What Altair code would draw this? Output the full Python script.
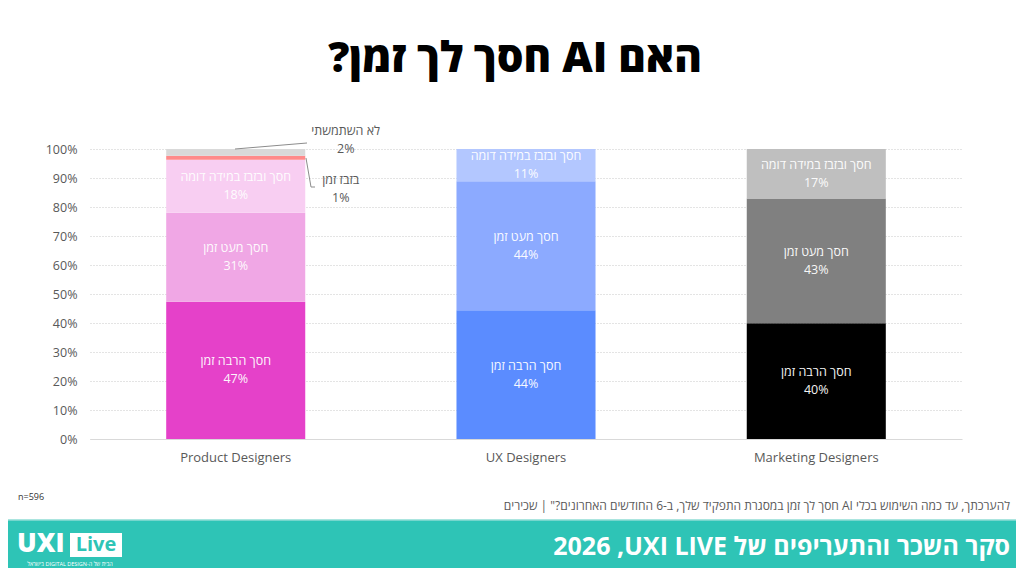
import altair as alt
import pandas as pd

# ---------------- data ----------------
groups = ["Product Designers", "UX Designers", "Marketing Designers"]
categories = ["חסך הרבה זמן", "חסך מעט זמן", "חסך ובזבז במידה דומה", "בזבז זמן", "לא השתמשתי"]

product_values = [47.3, 30.7, 18.3, 1.4, 2.3]
ux_values = [44.4, 44.5, 11.1]
marketing_values = [39.9, 43.0, 17.1]

product_labels = [47, 31, 18, 1, 2]
ux_labels = [44, 44, 11]
marketing_labels = [40, 43, 17]

product_colors = ["#e541c9", "#f0a7e5", "#f8cef2", "#ff8a8a", "#d9d9d9"]
ux_colors = ["#5b8cff", "#8caaff", "#b3c7ff"]
marketing_colors = ["#000000", "#808080", "#bfbfbf"]

y_ticks = list(range(0, 101, 10))

title_text = "האם AI חסך לך זמן?"
footnote_text = "להערכתך, עד כמה השימוש בכלי AI חסך לך זמן במסגרת התפקיד שלך, ב-6 החודשים האחרונים?\" | שכירים"
n_text = "n=596"
footer_title = "סקר השכר והתעריפים של UXI LIVE\u200F, 2026"
logo_sub = "הבית של ה-DIGITAL DESIGN בישראל"

RLE, PDF = "\u202B", "\u202C"

# ---------------- table ----------------
rows = []
keys, colors = [], []
for g, vals, labs, cols in [
    (groups[0], product_values, product_labels, product_colors),
    (groups[1], ux_values, ux_labels, ux_colors),
    (groups[2], marketing_values, marketing_labels, marketing_colors),
]:
    acc = 0.0
    for i, (v, lab, c) in enumerate(zip(vals, labs, cols)):
        key = f"{g}|{categories[i]}"
        rows.append({
            "group": g, "cat": categories[i], "key": key,
            "start": acc, "end": acc + v, "mid": acc + v / 2,
            "text": f"{categories[i]}\n{lab}%", "inside": v > 5,
        })
        keys.append(key)
        colors.append(c)
        acc += v
df = pd.DataFrame(rows)

FONT = "Open Sans"

x_axis = alt.Axis(title=None, labelAngle=0, ticks=False, domain=True, grid=False,
                  domainColor="#d9d9d9", domainWidth=1, labelPadding=12,
                  labelFontSize=13, labelColor="#595959", labelFont=FONT)
y_axis = alt.Axis(title=None, values=y_ticks, labelExpr="datum.value + '%'",
                  grid=True, gridDash=[1, 2], gridColor="#c8c8c8", gridWidth=1,
                  domain=False, ticks=False, labelPadding=13,
                  labelFontSize=12.5, labelColor="#595959", labelFont=FONT)
x_scale = alt.Scale(paddingInner=0.521, paddingOuter=0.2625)
y_scale = alt.Scale(domain=[0, 100], nice=False)


def X():
    return alt.X("group:N", sort=groups, scale=x_scale, axis=x_axis)


def Y(field):
    return alt.Y(field, scale=y_scale, axis=y_axis, title=None)


base = alt.Chart(df)

bars = base.mark_bar().encode(
    x=X(),
    y=Y("start:Q"),
    y2="end:Q",
    color=alt.Color("key:N", scale=alt.Scale(domain=keys, range=colors), legend=None),
)

inside_text = base.transform_filter("datum.inside").mark_text(
    color="white", fontSize=12.5, font=FONT, lineBreak="\n", lineHeight=18,
    baseline="middle", align="center", opacity=0.95, dy=-9
).encode(x=X(), y=Y("mid:Q"), text="text:N")

callout_style = dict(color="#595959", fontSize=12.5, font=FONT, lineBreak="\n",
                     lineHeight=18, baseline="middle", align="center")
call_unused = base.transform_filter(f"datum.cat == '{categories[4]}'").mark_text(
    dx=110, dy=-21, **callout_style
).encode(x=X(), y=Y("mid:Q"), text="text:N")
call_waste = base.transform_filter(f"datum.cat == '{categories[3]}'").mark_text(
    dx=105, dy=22, **callout_style
).encode(x=X(), y=Y("mid:Q"), text="text:N")

one = pd.DataFrame({"a": [0]})
deco = alt.Chart(one)

lead1 = deco.mark_rule(color="#8c8c8c", strokeWidth=1).encode(
    x=alt.value(145), y=alt.value(0), x2=alt.value(217), y2=alt.value(-6))
lead2a = deco.mark_rule(color="#8c8c8c", strokeWidth=1).encode(
    x=alt.value(216), y=alt.value(9), x2=alt.value(221), y2=alt.value(38))
lead2b = deco.mark_rule(color="#8c8c8c", strokeWidth=1).encode(
    x=alt.value(221), y=alt.value(38), x2=alt.value(225), y2=alt.value(38))

title = deco.mark_text(font=FONT, fontSize=42, fontWeight=800, color="#000000",
                       align="center", baseline="middle").encode(
    x=alt.value(425), y=alt.value(-90), text=alt.value(RLE + title_text + PDF))

n_label = deco.mark_text(font=FONT, fontSize=9, color="#333333", align="left",
                         baseline="middle").encode(
    x=alt.value(-72), y=alt.value(348), text=alt.value(n_text))

footnote = deco.mark_text(font=FONT, fontSize=12, color="#595959", align="right",
                          baseline="middle").encode(
    x=alt.value(920), y=alt.value(357), text=alt.value(RLE + footnote_text + PDF))

band = deco.mark_rect(color="#2ec4b6").encode(
    x=alt.value(-82), x2=alt.value(926), y=alt.value(371), y2=alt.value(420))
band_line = deco.mark_rule(color="#8fdcd4", strokeWidth=1.5).encode(
    x=alt.value(-82), x2=alt.value(926), y=alt.value(371))

footer = deco.mark_text(font=FONT, fontSize=25, fontWeight="bold", color="white",
                        align="right", baseline="middle").encode(
    x=alt.value(920), y=alt.value(398), text=alt.value(RLE + footer_title + PDF))

logo_uxi = deco.mark_text(font=FONT, fontSize=26, fontWeight=800, color="white",
                          align="left", baseline="middle").encode(
    x=alt.value(-73), y=alt.value(395), text=alt.value("UXI"))
logo_box = deco.mark_rect(color="white").encode(
    x=alt.value(-20), x2=alt.value(32), y=alt.value(384), y2=alt.value(408))
logo_live = deco.mark_text(font=FONT, fontSize=20, fontWeight="bold", color="#2ec4b6",
                           align="center", baseline="middle").encode(
    x=alt.value(6), y=alt.value(396), text=alt.value("Live"))
logo_small = deco.mark_text(font=FONT, fontSize=5.5, color="white", align="center",
                            baseline="middle").encode(
    x=alt.value(-20), y=alt.value(415), text=alt.value(RLE + logo_sub + PDF))

chart = alt.layer(
    bars, inside_text, call_unused, call_waste, lead1, lead2a, lead2b,
    title, n_label, footnote, band, band_line, footer,
    logo_uxi, logo_box, logo_live, logo_small,
).properties(
    width=872, height=290,
    background="white",
    autosize=alt.AutoSizeParams(type="none"),
    padding={"left": 82, "top": 141, "right": 54, "bottom": 129},
).configure_view(stroke=None)

chart.save("out.html", embed_options={"renderer": "svg", "actions": False})
